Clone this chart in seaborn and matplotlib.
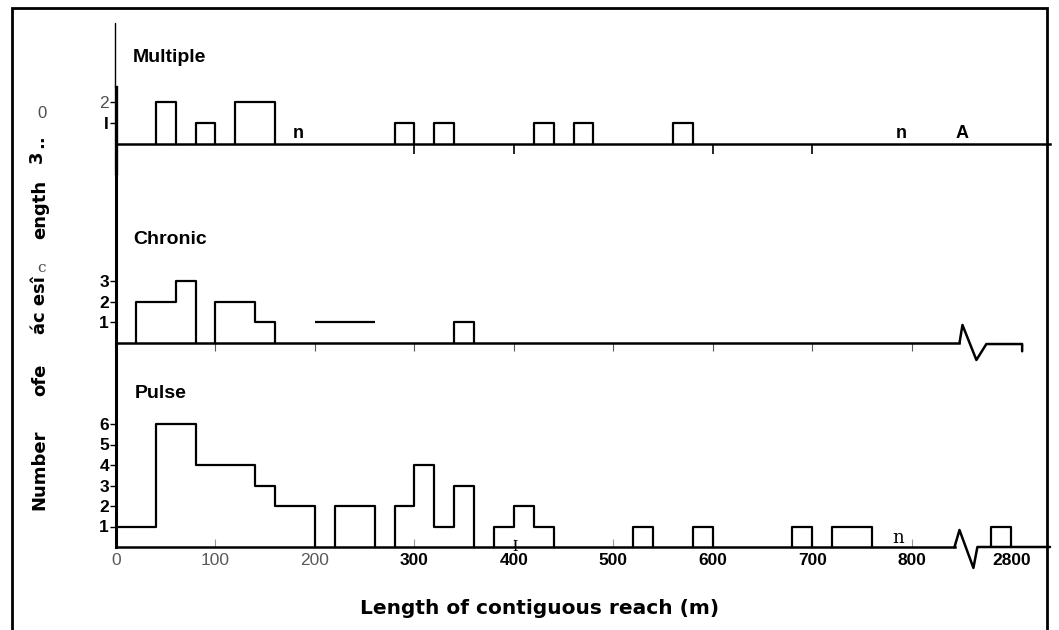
import pandas as pd
import matplotlib
matplotlib.use("Agg")
import matplotlib.pyplot as plt
import seaborn as sns
from matplotlib.patches import Rectangle

# step histogram segments: start (m), end (m), number of reaches
multiple_start = [40, 80, 120, 280, 320, 420, 460, 560]
multiple_end = [60, 100, 160, 300, 340, 440, 480, 580]
multiple_count = [2, 1, 2, 1, 1, 1, 1, 1]

chronic_start = [20, 60, 100, 140, 340]
chronic_end = [60, 80, 140, 160, 360]
chronic_count = [2, 3, 2, 1, 1]
# level line drawn without sides in the original
chronic_open_start = [200]
chronic_open_end = [260]
chronic_open_count = [1]

pulse_start = [0, 40, 80, 140, 160, 220, 280, 300, 320, 340, 380, 400, 420,
               520, 580, 680, 720, 2780]
pulse_end = [40, 80, 140, 160, 200, 260, 300, 320, 340, 360, 400, 420, 440,
             540, 600, 700, 760, 2800]
pulse_count = [1, 6, 4, 3, 2, 2, 2, 4, 1, 3, 1, 2, 1, 1, 1, 1, 1, 1]

x_ticks = [0, 100, 200, 300, 400, 500, 600, 700, 800, 2800]
x_tick_labels = ["0", "100", "200", "300", "400", "500", "600", "700", "800", "2800"]

# the axis is broken after 800 m: 2780 m sits at 880 on the drawn scale
BREAK_REAL = 2780
BREAK_AXIS = 880


def to_axis(m):
    return m if m < BREAK_REAL else BREAK_AXIS + (m - BREAK_REAL)


def outline(starts, ends, counts):
    # corner points of the stepped outline, one unit per contiguous run
    rows = []
    run = 0
    prev = None
    for s, e, c in zip(starts, ends, counts):
        s, e = to_axis(s), to_axis(e)
        if prev is None or s != prev:
            if prev is not None:
                rows.append((prev, 0, run))
                run += 1
            rows.append((s, 0, run))
        rows.append((s, c, run))
        rows.append((e, c, run))
        prev = e
    rows.append((prev, 0, run))
    return pd.DataFrame(rows, columns=["x", "y", "run"])


sns.set_style("ticks")
plt.rcParams["font.family"] = ["Liberation Sans", "DejaVu Sans"]
for key in ("text.color", "axes.labelcolor", "xtick.color", "ytick.color"):
    plt.rcParams[key] = "black"

W, H = 1059, 630
fig = plt.figure(figsize=(W / 100, H / 100), dpi=100)


def box(left, top, right, bottom):
    return [left / W, 1 - bottom / H, (right - left) / W, (bottom - top) / H]


ax_m = fig.add_axes(box(116, 23, 1050, 173))
ax_c = fig.add_axes(box(116, 175, 1050, 343))
ax_p = fig.add_axes(box(116, 343, 1050, 547))

for ax in (ax_m, ax_c, ax_p):
    ax.set_facecolor("none")
    ax.set_xlim(0, 939)
    for side in ("top", "right"):
        ax.spines[side].set_visible(False)
    ax.spines["bottom"].set_position(("data", 0))
    ax.spines["bottom"].set_linewidth(1.8)
    ax.spines["left"].set_linewidth(2.2)
    for side in ("bottom", "left"):
        ax.spines[side].set_color("black")

ax_m.set_ylim(-29 / 21, 121 / 21)
ax_c.set_ylim(0, 168 / 20.7)
ax_p.set_ylim(0, 204 / 20.5)

line_kw = dict(x="x", y="y", units="run", estimator=None, sort=False,
               color="black", lw=1.6, legend=False)
sns.lineplot(data=outline(multiple_start, multiple_end, multiple_count), ax=ax_m, **line_kw)
sns.lineplot(data=outline(chronic_start, chronic_end, chronic_count), ax=ax_c, **line_kw)
sns.lineplot(data=outline(pulse_start, pulse_end, pulse_count), ax=ax_p, **line_kw)
ax_c.hlines(chronic_open_count, chronic_open_start, chronic_open_end, color="black", lw=1.6)
for ax in (ax_m, ax_c, ax_p):
    ax.set_xlabel("")
    ax.set_ylabel("")

# Multiple panel: thin upper axis line, heavier lower part
ax_m.spines["left"].set_bounds(-29 / 21, 57 / 21)
ax_m.spines["left"].set_linewidth(2.4)
ax_m.plot([-1.5, -1.5], [57 / 21, 121 / 21], color="black", lw=1.0, clip_on=False)

# axis breaks
ax_c.spines["bottom"].set_bounds(0, 848)
ax_c.plot([848, 851, 865, 875, 911, 911], [0, 0.87, -0.82, -0.05, -0.05, -0.4],
          color="black", lw=1.8, clip_on=False)
ax_p.spines["bottom"].set_bounds(0, 843)
ax_p.plot([843, 848, 862, 866, 939], [0, 0.83, -1.02, 0, 0],
          color="black", lw=1.8, clip_on=False)

# x ticks
ax_m.set_xticks([300, 400, 600, 700], labels=[])
ax_m.tick_params(axis="x", direction="out", length=7, width=1.2, color="black")
ax_c.set_xticks([100, 200, 300, 400, 500, 600, 700, 800], labels=[])
ax_c.tick_params(axis="x", direction="out", length=6, width=0.8, color="0.35")
ax_p.set_xticks([to_axis(v) for v in x_ticks], labels=x_tick_labels)
ax_p.tick_params(axis="x", direction="in", length=6, width=0.8, color="0.6", pad=4)
for i, lab in enumerate(ax_p.get_xticklabels()):
    lab.set_fontsize(12.5)
    if i < 3:
        lab.set_fontweight("normal")
        lab.set_color("0.35")
    else:
        lab.set_fontweight("bold")
        lab.set_color("black")

# y ticks
ax_m.set_yticks([1, 2], labels=["I", "2"])
ax_c.set_yticks([1, 2, 3], labels=["1", "2", "3"])
ax_p.set_yticks([1, 2, 3, 4, 5, 6], labels=["1", "2", "3", "4", "5", "6"])
for ax in (ax_m, ax_c, ax_p):
    ax.tick_params(axis="y", direction="out", length=4, width=1.0, pad=1,
                   labelsize=12.5, color="black")
    for lab in ax.get_yticklabels():
        lab.set_fontweight("bold")
ax_m.get_yticklabels()[1].set_fontweight("normal")
ax_m.get_yticklabels()[1].set_color("0.3")

# panel titles and stray marks from the scan
title_kw = dict(fontsize=14, fontweight="bold", ha="left", va="center")
ax_m.text(17, 87 / 21, "Multiple", **title_kw)
ax_c.text(17, 103 / 20.7, "Chronic", **title_kw)
ax_p.text(19, 154 / 20.5, "Pulse", **title_kw)
mark_kw = dict(fontsize=13, fontweight="bold", ha="center", va="bottom")
ax_m.text(183, 0.08, "n", **mark_kw)
ax_m.text(789, 0.08, "n", **mark_kw)
ax_m.text(851, 0.08, "A", **mark_kw)
ax_p.text(786, 0.02, "n", fontsize=13, family="DejaVu Serif", ha="center", va="bottom")
ax_p.text(401, 0.0, "I", fontsize=10, family="DejaVu Serif", ha="center", va="center")

# x label
fig.text(540 / W, 1 - 608 / H, "Length of contiguous reach (m)", fontsize=14.5,
         fontweight="bold", family="DejaVu Sans", ha="center", va="center")

# y label, as it survives in the scan
ylab_kw = dict(fontsize=13, fontweight="bold", family="DejaVu Sans",
               rotation=90, ha="center", va="center")
fig.text(39 / W, 1 - 470 / H, "Number", **ylab_kw)
fig.text(40 / W, 1 - 380 / H, "ofe", **ylab_kw)
fig.text(40 / W, 1 - 305 / H, "ác esî", **ylab_kw)
fig.text(40 / W, 1 - 209 / H, "ength", **ylab_kw)
fig.text(37 / W, 1 - 157 / H, "3", **ylab_kw)
fig.text(38 / W, 1 - 141 / H, "..", **ylab_kw)
fig.text(42 / W, 1 - 113 / H, "0", fontsize=12, color="0.3",
         ha="center", va="center")
fig.text(41 / W, 1 - 268 / H, "c", fontsize=11, color="0.3", family="DejaVu Serif",
         ha="center", va="center")

# page frame, open at the bottom
fig.patches.append(Rectangle((12 / W, -0.05), (1047 - 12) / W, 1.05 - 8 / H,
                             transform=fig.transFigure, fill=False,
                             edgecolor="black", lw=2.0))

fig.savefig("out.png", dpi=100)
